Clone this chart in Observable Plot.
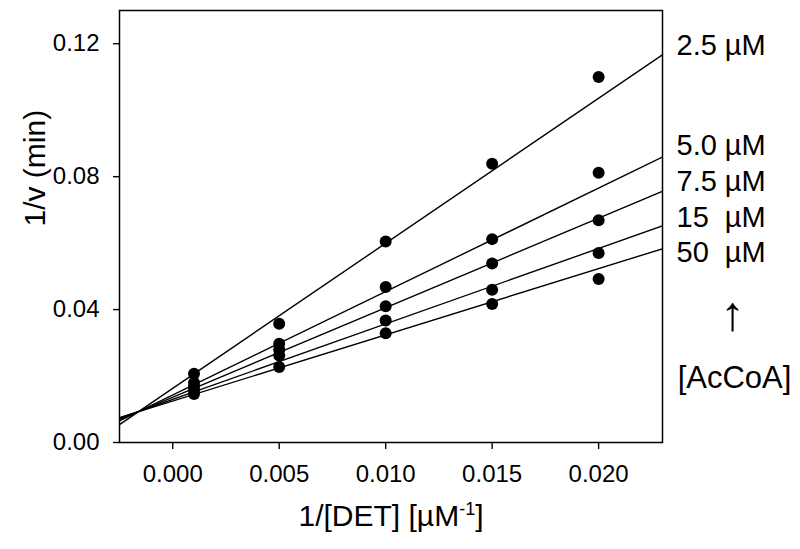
<!DOCTYPE html>
<html>
<head>
<meta charset="utf-8">
<script src="https://cdn.jsdelivr.net/npm/d3@7"></script>
<script src="https://cdn.jsdelivr.net/npm/@observablehq/plot@0.6"></script>
<style>
  html, body { margin: 0; padding: 0; background: #fff; }
  #chart svg { display: block; }
</style>
</head>
<body>
<div id="chart"></div>
<script>
// ---- data ----
const invDET = [0.001, 0.005, 0.010, 0.015, 0.020];          // 1/[DET] (µM^-1)
const seriesLabels = ["2.5 µM", "5.0 µM", "7.5 µM", "15\u00A0\u00A0µM", "50\u00A0\u00A0µM"];
const v_2_5 = [0.0207, 0.0357, 0.0605, 0.0839, 0.1100];
const v_5_0 = [0.0180, 0.0297, 0.0468, 0.0612, 0.0812];
const v_7_5 = [0.0168, 0.0279, 0.0410, 0.0539, 0.0669];
const v_15  = [0.0157, 0.0262, 0.0367, 0.0460, 0.0570];
const v_50  = [0.0146, 0.0227, 0.0329, 0.0417, 0.0492];
// fitted lines: value of 1/v at the two ends of the fit range
const fitRange = [-0.0025, 0.023];
const fitStart = [0.0054, 0.0065, 0.0069, 0.0073, 0.0075];
const fitEnd   = [0.1167, 0.0859, 0.0756, 0.0652, 0.0583];
const xTicks = [0.000, 0.005, 0.010, 0.015, 0.020];
const yTicks = [0.00, 0.04, 0.08, 0.12];
const legendTitle = "[AcCoA]";

// ---- layout (label anchor heights, in y units) ----
const labelY = [0.1194, 0.0892, 0.0784, 0.0676, 0.0570];
const arrowY = 0.0385;
const titleY = 0.0195;

const seriesValues = [v_2_5, v_5_0, v_7_5, v_15, v_50];
const points = seriesValues.flatMap((vals, s) => vals.map((v, i) => ({x: invDET[i], y: v, s})));
const fits = seriesLabels.map((lab, s) => ({x1: fitRange[0], x2: fitRange[1], y1: fitStart[s], y2: fitEnd[s]}));
const labels = seriesLabels.map((lab, s) => ({text: lab, y: labelY[s]}));

const font = "'Liberation Sans', Arial, Helvetica, sans-serif";

const chart = Plot.plot({
  width: 800,
  height: 549,
  marginLeft: 119,
  marginRight: 138,
  marginTop: 10,
  marginBottom: 107,
  style: {fontFamily: font, fontSize: "24px", color: "black", background: "white", overflow: "visible"},
  x: {domain: fitRange, ticks: xTicks},
  y: {domain: [0, 0.13], ticks: yTicks},
  marks: [
    Plot.link(fits, {x1: "x1", y1: "y1", x2: "x2", y2: "y2", stroke: "black", strokeWidth: 1.4, clip: true}),
    Plot.dot(points, {x: "x", y: "y", r: 6, fill: "black", stroke: "none"}),
    Plot.frame({stroke: "black", strokeWidth: 1.5}),
    Plot.axisX({ticks: xTicks, tickSize: 7, tickPadding: 15, tickFormat: d => d.toFixed(3), label: null, fontSize: 24, strokeWidth: 1.4}),
    Plot.axisY({ticks: yTicks, tickSize: 6, tickPadding: 14, tickFormat: d => d.toFixed(2), label: null, fontSize: 24, strokeWidth: 1.4}),
    Plot.text(["1/v (min)"], {frameAnchor: "left", rotate: -90, dx: -84, fontSize: 30}),
    Plot.text(["1/[DET] [µM-1]"], {frameAnchor: "bottom", dy: 83, fontSize: 30}),
    Plot.text(labels, {frameAnchor: "right", y: "y", text: "text", dx: 14, textAnchor: "start", fontSize: 29}),
    Plot.text(["↑"], {frameAnchor: "right", y: [arrowY], dx: 70, textAnchor: "middle", fontSize: 48}),
    Plot.text([legendTitle], {frameAnchor: "right", y: [titleY], dx: 72, textAnchor: "middle", fontSize: 31})
  ]
});

// superscript for the x-axis title
chart.querySelectorAll("text").forEach(t => {
  if (t.textContent === "1/[DET] [µM-1]") {
    t.textContent = "";
    const ns = "http://www.w3.org/2000/svg";
    const a = document.createElementNS(ns, "tspan"); a.textContent = "1/[DET] [µM";
    const b = document.createElementNS(ns, "tspan"); b.textContent = "-1";
    b.setAttribute("font-size", "18"); b.setAttribute("baseline-shift", "60%");
    const c = document.createElementNS(ns, "tspan"); c.textContent = "]";
    t.append(a, b, c);
  }
});

document.getElementById("chart").append(chart);
</script>
</body>
</html>
